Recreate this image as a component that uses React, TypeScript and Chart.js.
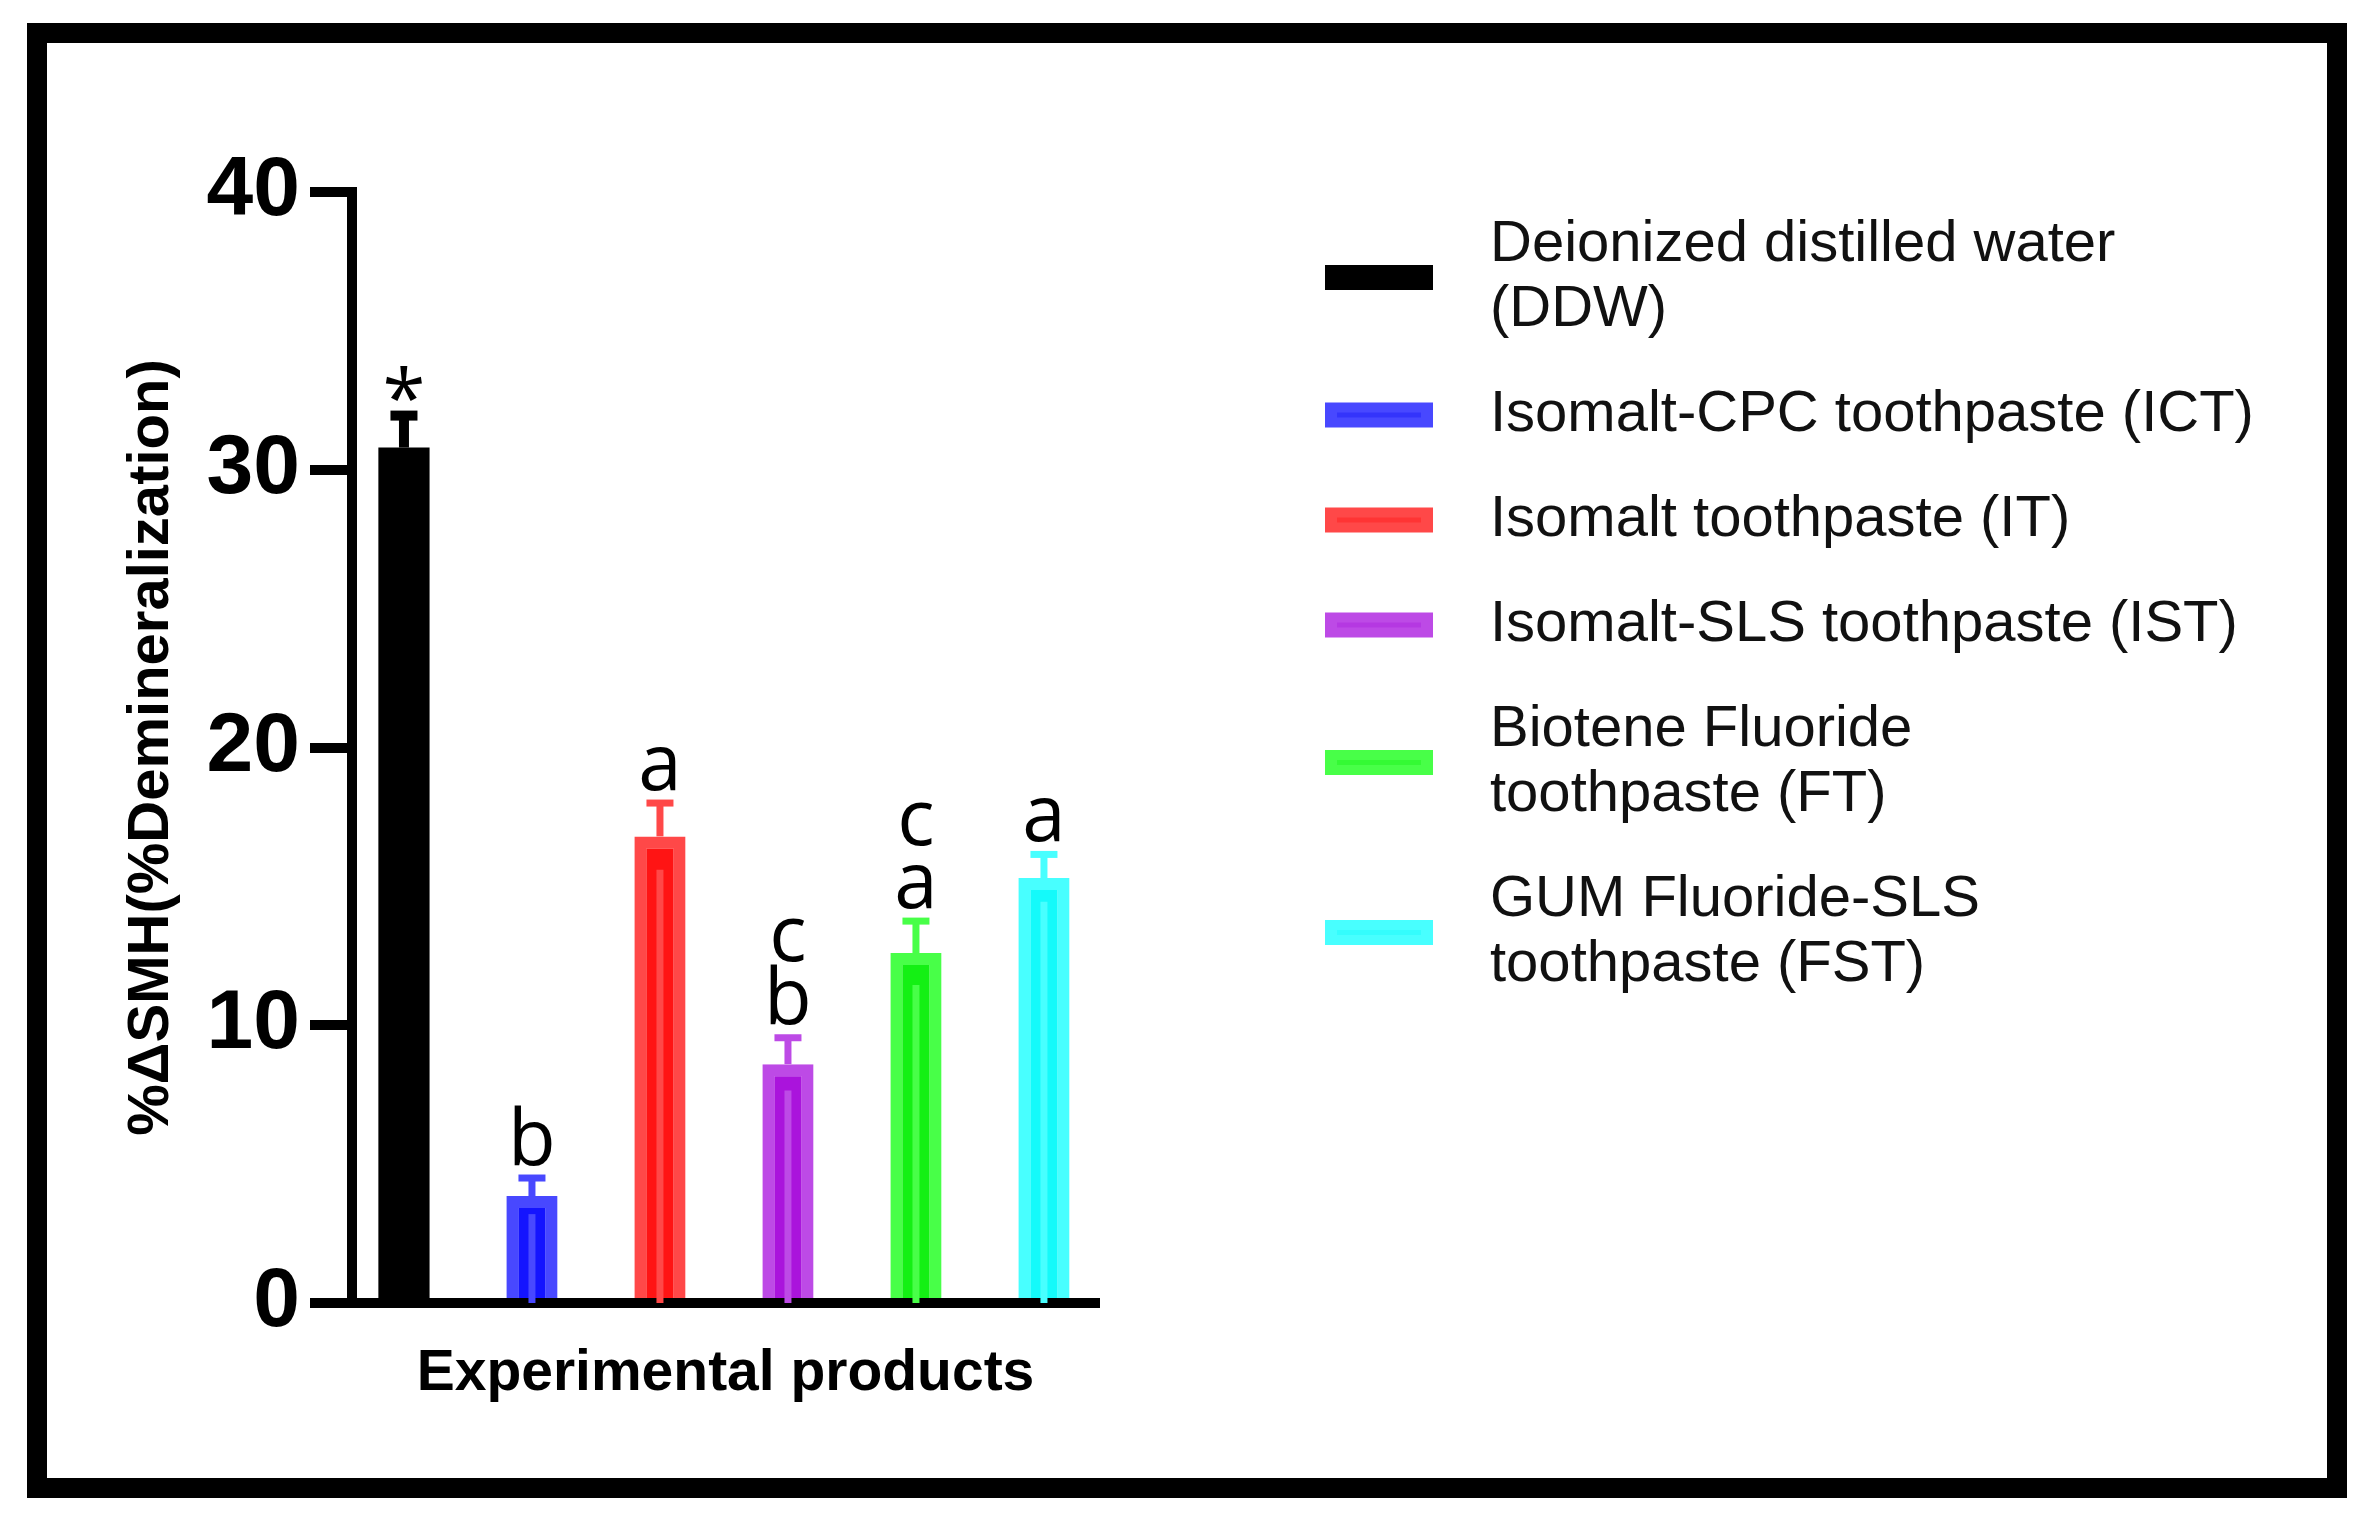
import React, { useEffect, useRef } from "react";
import { Chart, registerables } from "chart.js";

Chart.register(...registerables);

// ---------- data ----------
const categories = ["DDW", "ICT", "IT", "IST", "FT", "FST"];
const categoryIndex = [0, 1, 2, 3, 4, 5];
const meanValues = [30.8, 3.85, 16.8, 8.6, 12.6, 15.3];
const sdValues = [1.15, 0.65, 1.2, 0.95, 1.15, 0.85];
const groupLetters = [["*"], ["b"], ["a"], ["c", "b"], ["c", "a"], ["a"]];
const legendLabels = [
  ["Deionized distilled water", "(DDW)"],
  ["Isomalt-CPC toothpaste (ICT)"],
  ["Isomalt toothpaste (IT)"],
  ["Isomalt-SLS toothpaste (IST)"],
  ["Biotene Fluoride", "toothpaste (FT)"],
  ["GUM Fluoride-SLS", "toothpaste (FST)"],
];
const yTickValues = [0, 10, 20, 30, 40];
const yTickLabels = ["0", "10", "20", "30", "40"];
const xAxisTitle = "Experimental products";
const yAxisTitle = "%ΔSMH(%Demineralization)";

// ---------- styles ----------
const fillColors = ["#000000", "#1414ff", "#ff1414", "#aa14dc", "#14f014", "#14fafa"];
const edgeColors = ["#000000", "#4848ff", "#ff4848", "#bd4ae6", "#48ff48", "#48ffff"];
const swatchLines = ["#000000", "#3434fb", "#ff3434", "#b538e2", "#34fa34", "#34fdfd"];
const barBorderWidths = [0, 12, 12, 12, 12, 12];
const errLineWidths = [10, 7, 7, 7, 7, 7];
const AXIS_FONT = "Liberation Sans";

const framePlugin = {
  id: "frame",
  beforeDraw(chart: any) {
    const ctx = chart.ctx;
    ctx.save();
    ctx.fillStyle = "#ffffff";
    ctx.fillRect(0, 0, chart.width, chart.height);
    ctx.strokeStyle = "#000000";
    ctx.lineWidth = 20;
    ctx.lineJoin = "miter";
    ctx.strokeRect(37, 33, 2300, 1455);
    ctx.restore();
  },
};

const errorBarPlugin = {
  id: "errorBars",
  afterDatasetsDraw(chart: any) {
    const meta = chart.getDatasetMeta(0);
    const yScale = chart.scales.y;
    const ctx = chart.ctx;
    meta.data.forEach((el: any, i: number) => {
      const { x } = el.getProps(["x"], true);
      const top = yScale.getPixelForValue(meanValues[i] + sdValues[i]);
      const barTop = yScale.getPixelForValue(meanValues[i]);
      const low = yScale.getPixelForValue(meanValues[i] - sdValues[i]);
      const base = yScale.getPixelForValue(0);
      const w = errLineWidths[i];
      ctx.save();
      ctx.strokeStyle = edgeColors[i];
      ctx.lineCap = "butt";
      // lower part of whisker, seen inside the bar
      if (i > 0) {
        ctx.lineWidth = 7;
        ctx.beginPath();
        ctx.moveTo(x, low);
        ctx.lineTo(x, base);
        ctx.stroke();
      }
      // upper whisker and cap
      ctx.lineWidth = w;
      ctx.beginPath();
      ctx.moveTo(x, barTop);
      ctx.lineTo(x, top);
      ctx.stroke();
      ctx.beginPath();
      ctx.moveTo(x - 13.5, top);
      ctx.lineTo(x + 13.5, top);
      ctx.stroke();
      // significance letters
      ctx.fillStyle = "#000000";
      ctx.font = '78px "Open Sans"';
      ctx.textAlign = "center";
      ctx.textBaseline = "alphabetic";
      const lines = groupLetters[i];
      let inkBottom = top - w / 2 - 9;
      for (let k = lines.length - 1; k >= 0; k--) {
        const m = ctx.measureText(lines[k]);
        const baseline = inkBottom - m.actualBoundingBoxDescent;
        ctx.fillText(lines[k], x, baseline);
        inkBottom = baseline - 62;
      }
      ctx.restore();
    });
  },
};

const sideLegendPlugin = {
  id: "sideLegend",
  afterDraw(chart: any) {
    const ctx = chart.ctx;
    ctx.save();
    ctx.font = `58px "${AXIS_FONT}"`;
    ctx.textBaseline = "middle";
    ctx.textAlign = "left";
    const lineH = 65;
    let top = 212.5;
    legendLabels.forEach((lines, i) => {
      const h = lines.length * lineH;
      const cy = top + h / 2;
      ctx.fillStyle = edgeColors[i];
      ctx.fillRect(1325, cy - 12.5, 108, 25);
      ctx.fillStyle = swatchLines[i];
      ctx.fillRect(1337, cy - 2.5, 84, 5);
      ctx.fillStyle = "#111111";
      lines.forEach((t, k) => ctx.fillText(t, 1490, top + lineH / 2 + k * lineH));
      top += h + 40;
    });
    ctx.restore();
  },
};

export default function App() {
  const ref = useRef<HTMLCanvasElement>(null);

  useEffect(() => {
    if (!ref.current) return;
    const chart = new Chart(ref.current, {
      type: "bar",
      data: {
        labels: categories,
        datasets: [
          {
            label: "%ΔSMH",
            data: categoryIndex.map((xi, i) => ({ x: xi, y: meanValues[i] })) as any,
            backgroundColor: fillColors,
            borderColor: edgeColors,
            borderWidth: barBorderWidths,
            borderSkipped: "start",
            barPercentage: 0.4,
            categoryPercentage: 1,
          },
        ],
      },
      options: {
        animation: false,
        responsive: false,
        layout: { padding: { left: 100, right: 1275, top: 192, bottom: 123 } },
        plugins: {
          legend: { display: false },
          tooltip: { enabled: false },
          title: { display: false },
        },
        scales: {
          x: {
            type: "linear",
            min: -0.406,
            max: 5.43,
            offset: false,
            z: 1,
            afterBuildTicks: (s: any) => {
              s.ticks = categoryIndex.map((v) => ({ value: v }));
            },
            grid: { display: false },
            border: { display: true, color: "#000000", width: 10 },
            ticks: { display: false },
            title: {
              display: true,
              text: xAxisTitle,
              color: "#000000",
              font: { family: AXIS_FONT, size: 57, weight: "bold" },
              padding: { top: 0, bottom: 5 },
            },
            afterFit: (s: any) => {
              s.height = 110;
            },
          } as any,
          y: {
            type: "linear",
            min: 0,
            max: 40,
            afterBuildTicks: (s: any) => {
              s.ticks = yTickValues.map((v) => ({ value: v }));
            },
            ticks: {
              color: "#000000",
              font: { family: AXIS_FONT, size: 84, weight: "bold" },
              padding: 10,
              callback: (v: any) => yTickLabels[yTickValues.indexOf(Number(v))],
            },
            grid: {
              display: true,
              drawOnChartArea: false,
              drawTicks: true,
              tickLength: 42,
              lineWidth: 10,
              color: "#000000",
            },
            border: { display: true, color: "#000000", width: 10 },
            title: {
              display: true,
              text: yAxisTitle,
              color: "#000000",
              font: { family: AXIS_FONT, size: 58, weight: "bold" },
              padding: { top: 17, bottom: 0 },
            },
            afterFit: (s: any) => {
              s.width = 252;
            },
          } as any,
        },
      },
      plugins: [framePlugin, errorBarPlugin, sideLegendPlugin],
    });
    let alive = true;
    if ((document as any).fonts && (document as any).fonts.ready) {
      (document as any).fonts.ready.then(() => {
        if (alive) chart.update();
      });
    }
    return () => {
      alive = false;
      chart.destroy();
    };
  }, []);

  return (
    <div
      style={{
        position: "absolute",
        left: 0,
        top: 0,
        width: 2374,
        height: 1536,
        background: "#ffffff",
      }}
    >
      <canvas
        ref={ref}
        width={2374}
        height={1536}
        style={{ display: "block", width: 2374, height: 1536 }}
      />
    </div>
  );
}
